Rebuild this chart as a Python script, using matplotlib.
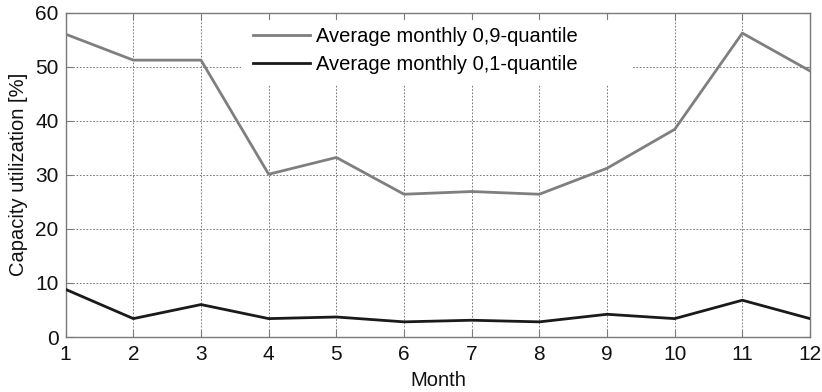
import matplotlib
matplotlib.use("Agg")
import matplotlib.pyplot as plt
from matplotlib.patches import Rectangle

plt.rcParams["font.family"] = ["Liberation Sans", "DejaVu Sans"]

# --- data ---
months = [1, 2, 3, 4, 5, 6, 7, 8, 9, 10, 11, 12]
q90 = [56.0, 51.2, 51.2, 30.1, 33.2, 26.4, 26.9, 26.4, 31.2, 38.4, 56.2, 49.2]
q10 = [8.8, 3.4, 6.0, 3.4, 3.7, 2.8, 3.1, 2.8, 4.2, 3.4, 6.8, 3.4]
labels = ["Average monthly 0,9-quantile", "Average monthly 0,1-quantile"]
yticks = [0, 10, 20, 30, 40, 50, 60]

GRAY = "#7f7f7f"
BLACK = "#1a1a1a"
SPINE = "#7a7a7a"

fig = plt.figure(figsize=(8.22, 3.92), dpi=100)
ax = fig.add_axes([0.0799, 0.1403, 0.9055, 0.8277])

ax.plot(months, q90, color=GRAY, lw=2.0, label=labels[0], zorder=3)
ax.plot(months, q10, color=BLACK, lw=2.0, label=labels[1], zorder=3)

ax.set_xlim(1, 12)
ax.set_ylim(0, 60)
ax.set_xticks(months)
ax.set_yticks(yticks)

ax.set_axisbelow(True)
ax.grid(True, color="#666666", linestyle=(0, (2, 2)), linewidth=0.6)

for s in ax.spines.values():
    s.set_color(SPINE)
    s.set_linewidth(1.0)
ax.tick_params(direction="in", top=True, right=True, length=5, width=0.8,
               color=SPINE, labelsize=15, labelcolor="#111111")
ax.tick_params(axis="x", pad=6)
ax.tick_params(axis="y", pad=5)

ax.set_xlabel("Month", fontsize=14.5, color="#111111", labelpad=5)
ax.set_ylabel("Capacity utilization [%]", fontsize=14.5, color="#111111",
              labelpad=5)

# white block behind the legend (grid lines stop there)
ax.add_patch(Rectangle((0.2355, 0.7766), 0.527, 0.2, transform=ax.transAxes,
                       facecolor="white", edgecolor="none", zorder=1.5))

leg = ax.legend(loc="upper left", bbox_to_anchor=(0.2517, 0.955),
                frameon=False, fontsize=14.5, borderpad=0, borderaxespad=0,
                handlelength=2.85, handletextpad=0.3, labelspacing=0.45)

fig.savefig("out.png", dpi=100)
